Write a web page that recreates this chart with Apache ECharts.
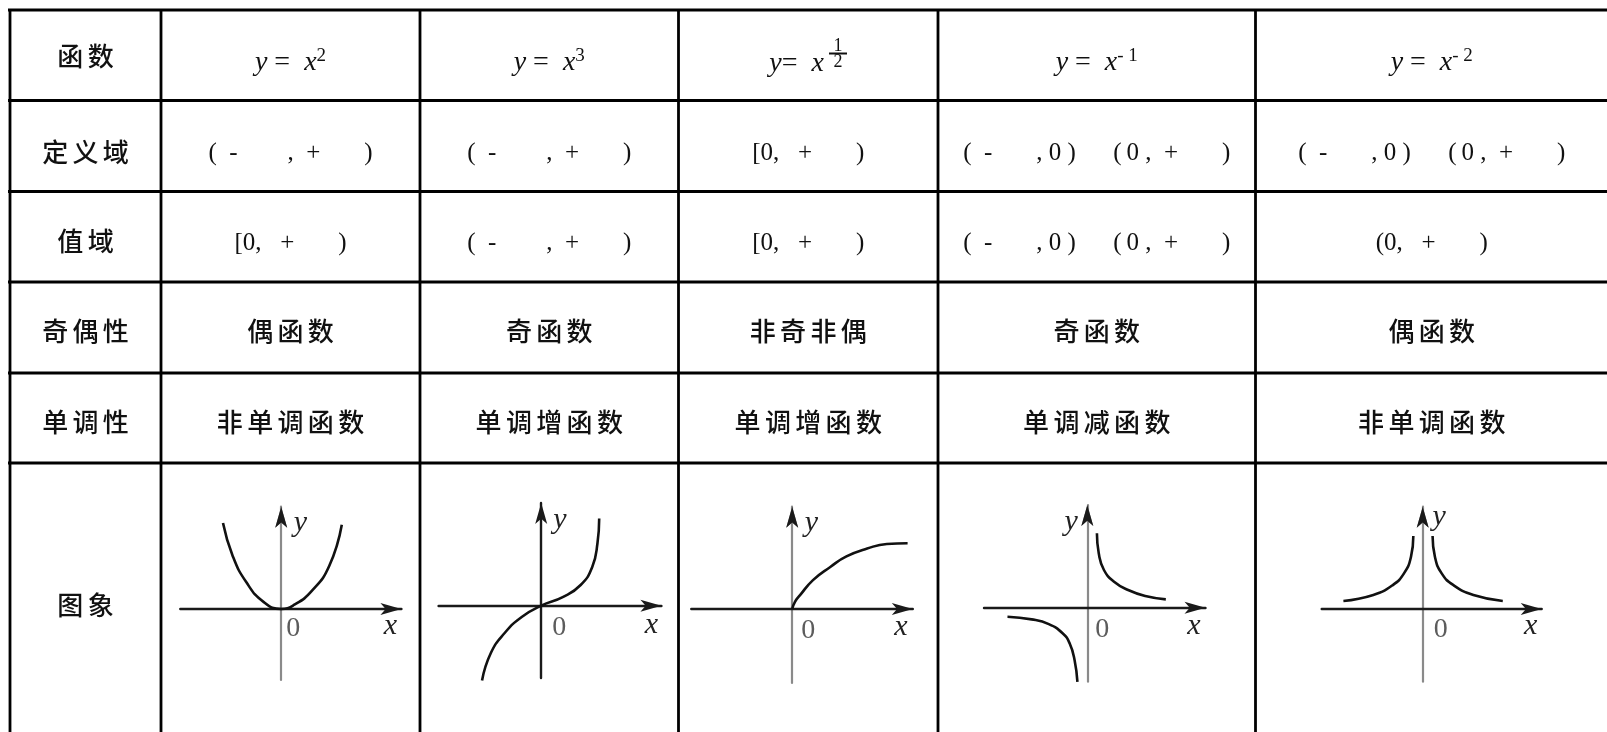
<!DOCTYPE html>
<html>
<head>
<meta charset="utf-8">
<title>幂函数的图象与性质</title>
<script src="https://cdn.jsdelivr.net/npm/echarts@6.0.0/dist/echarts.min.js"></script>
<style>
    html, body { margin: 0; padding: 0; background: #fff; }
    #main { width: 1607px; height: 732px; }
</style>
</head>
<body>
<div id="main"></div>
<script>
    // 表格文字
    var rowNames = ['函数', '定义域', '值域', '奇偶性', '单调性', '图象'];
    var exponents = ['2', '3', '1/2', '- 1', '- 2'];
    var domains = ['(  -        ,  +       )', '(  -        ,  +       )', '[0,   +       )',
                   '(  -       , 0 )      (\u20090 ,  +       )', '(  -       , 0 )      (\u20090 ,  +       )'];
    var ranges = ['[0,   +       )', '(  -        ,  +       )', '[0,   +       )',
                  '(  -       , 0 )      (\u20090 ,  +       )', '(0,   +       )'];
    var parity = ['偶函数', '奇函数', '非奇非偶', '奇函数', '偶函数'];
    var monotony = ['非单调函数', '单调增函数', '单调增函数', '单调减函数', '非单调函数'];

    // 图象：曲线点（坐标单位见下面的 layout）
    var curveX2 = [[-0.97, 1.0], [-0.81, 0.62], [-0.58, 0.31], [-0.29, 0.08], [0, 0],
                   [0.22, 0.05], [0.51, 0.21], [0.8, 0.5], [1.01, 0.98]];
    var curveX3 = [[-1.02, -0.85], [-0.87, -0.54], [-0.63, -0.31], [-0.33, -0.125], [0, 0],
                   [0.38, 0.10], [0.68, 0.235], [0.88, 0.44], [0.97, 0.71], [1.0, 0.99]];
    var curveSqrt = [[0, 0], [0.024, 0.11], [0.068, 0.21], [0.18, 0.44], [0.33, 0.64],
                     [0.47, 0.8], [0.65, 0.92], [0.82, 0.99], [1.0, 1.0]];
    var curveInvL = [[-3.07, -0.35], [-2.14, -0.45], [-1.48, -0.63], [-0.95, -0.98], [-0.68, -1.37], [-0.49, -2.01], [-0.38, -2.85]];
    var curveInvR = [[0.37, 2.86], [0.44, 2.09], [0.64, 1.45], [1.03, 1.0], [1.57, 0.68], [2.23, 0.45], [3.02, 0.32]];
    var curveInv2L = [[-3.05, 0.31], [-1.9, 0.54], [-1.15, 0.92], [-0.72, 1.37], [-0.45, 2.01], [-0.36, 2.81]];
    var curveInv2R = [[0.38, 2.81], [0.47, 2.01], [0.73, 1.37], [1.18, 0.92], [1.95, 0.54], [3.08, 0.31]];

    var mathFont = '"Liberation Serif", "Times New Roman", serif';
    var cjkFont = '"Noto Sans CJK SC", sans-serif';

    var colX = [10, 161, 420, 678.5, 938, 1255.5, 1608];
    var rowY = [10, 100.5, 191.5, 282, 373, 463];
    var nameY = [56, 152, 241, 331, 422, 605];

    function cx(i) { return (colX[i] + colX[i + 1]) / 2; }
    function spaced(s) { return s.split('').join('\u2006'); }

    var graphic = [];
    rowY.forEach(function (y) {
        graphic.push({ type: 'line', shape: { x1: 8, y1: y, x2: 1607, y2: y }, style: { stroke: '#000', lineWidth: 2.8 } });
    });
    colX.slice(0, 6).forEach(function (x) {
        graphic.push({ type: 'line', shape: { x1: x, y1: 9, x2: x, y2: 732 }, style: { stroke: '#000', lineWidth: 2.8 } });
    });

    function cjkText(s, x, y) {
        return { type: 'text', x: x, y: y, style: {
            text: spaced(s), fontFamily: cjkFont, fontSize: 26, fontWeight: 500, fill: '#111',
            align: 'center', verticalAlign: 'middle', textAlign: 'center', textVerticalAlign: 'middle' } };
    }
    function mathText(s, x, y, size, rich, align) {
        return { type: 'text', x: x, y: y, style: {
            text: s, fontFamily: mathFont, fontSize: size, fill: '#111', rich: rich,
            align: align || 'center', verticalAlign: 'middle', textAlign: align || 'center', textVerticalAlign: 'middle' } };
    }

    rowNames.forEach(function (s, i) { graphic.push(cjkText(s, cx(0), nameY[i])); });
    parity.forEach(function (s, i) { graphic.push(cjkText(s, cx(i + 1), nameY[3])); });
    monotony.forEach(function (s, i) { graphic.push(cjkText(s, cx(i + 1), nameY[4])); });
    domains.forEach(function (s, i) { graphic.push(mathText(s, cx(i + 1), 153, 25)); });
    ranges.forEach(function (s, i) { graphic.push(mathText(s, cx(i + 1), 243, 25)); });

    var headRich = {
        i: { fontFamily: mathFont, fontStyle: 'italic', fontSize: 28, verticalAlign: 'middle' },
        n: { fontFamily: mathFont, fontSize: 28, verticalAlign: 'middle' },
        s: { fontFamily: mathFont, fontSize: 19, verticalAlign: 'middle', padding: [0, 0, 13, 0] }
    };
    exponents.forEach(function (e, i) {
        var x = cx(i + 1);
        if (e.indexOf('/') > 0) {
            var p = e.split('/');
            graphic.push(mathText('{i|y}{n|=  }{i|x}', 824, 64, 28, headRich, 'right'));
            graphic.push(mathText(p[0], 838, 46.5, 18));
            graphic.push({ type: 'rect', shape: { x: 829, y: 52.5, width: 18, height: 2 }, style: { fill: '#111' } });
            graphic.push(mathText(p[1], 838, 62, 18));
        } else {
            graphic.push(mathText('{i|y}{n| =  }{i|x}{s|' + e + '}', x, 63, 28, headRich));
        }
    });

    // 每个小图：原点像素位置、单位长度、坐标轴的像素范围（到箭头尖端）和标注位置
    var layout = [
        { curves: [curveX2], origin: [281.2, 609], unit: [60, 86], xPx: [180.3, 401.4], yPx: [680, 506.7],
          gray: true, xName: [-11, 15], yName: [19, 16], zero: [12, 20] },
        { curves: [curveX3], origin: [541.2, 605.7], unit: [58, 88], xPx: [438.6, 661.4], yPx: [678, 503],
          gray: false, xName: [-10, 17], yName: [18.6, 17], zero: [18, 22] },
        { curves: [curveSqrt], origin: [792.2, 609], unit: [115.4, 65.7], xPx: [691.3, 912.8], yPx: [683, 506.7],
          gray: true, xName: [-12, 16], yName: [19, 16.6], zero: [16, 22] },
        { curves: [curveInvL, curveInvR], origin: [1087.3, 607.7], unit: [26, 26], xPx: [984, 1205.5], yPx: [681.7, 505],
          gray: true, xName: [-11.5, 16], yName: [-16, 16.7], zero: [15, 22] },
        { curves: [curveInv2L, curveInv2R], origin: [1422.7, 609], unit: [26, 26], xPx: [1321.7, 1541.7], yPx: [681.7, 506.7],
          gray: true, xName: [-11, 15], yName: [16.3, 10.6], zero: [18, 21] }
    ];

    var grids = [], xAxes = [], yAxes = [], series = [];
    var labelFont = { fontFamily: mathFont, fontStyle: 'italic', fontSize: 30, color: '#222' };
    var hidden = { axisTick: { show: false }, axisLabel: { show: false }, splitLine: { show: false } };
    var arrow = { symbol: ['none', 'arrow'], symbolSize: [9, 21] };

    layout.forEach(function (g) {
        var xMin = (g.xPx[0] - g.origin[0]) / g.unit[0], xMax = (g.xPx[1] - g.origin[0]) / g.unit[0];
        var yMin = (g.origin[1] - g.yPx[0]) / g.unit[1], yMax = (g.origin[1] - g.yPx[1]) / g.unit[1];
        var gi = grids.length;
        grids.push({ left: g.xPx[0], top: g.yPx[1], width: g.xPx[1] - g.xPx[0], height: g.yPx[0] - g.yPx[1] });

        var xIdx = xAxes.length;
        xAxes.push(Object.assign({
            type: 'value', gridIndex: gi, min: xMin, max: xMax,
            name: 'x', nameLocation: 'end', nameGap: g.xName[0],
            nameTextStyle: Object.assign({ align: 'center', verticalAlign: 'top', padding: [g.xName[1] - 12.5, 0, 0, 0] }, labelFont),
            axisLine: Object.assign({ onZero: true, lineStyle: { color: '#1a1a1a', width: 2.4 } }, arrow)
        }, hidden));

        var w = 13;
        var yIdx = yAxes.length;
        yAxes.push(Object.assign({
            type: 'value', gridIndex: gi, min: yMin, max: yMax,
            name: 'y', nameLocation: 'end', nameGap: -g.yName[1],
            nameTextStyle: Object.assign(g.yName[0] < 0
                ? { align: 'right', verticalAlign: 'middle', padding: [0, -g.yName[0] - w / 2, 0, 0] }
                : { align: 'left', verticalAlign: 'middle', padding: [0, 0, 0, g.yName[0] - w / 2] }, labelFont),
            axisLine: Object.assign({ onZero: true, lineStyle: { color: g.gray ? '#8a8a8a' : '#1a1a1a', width: g.gray ? 2.2 : 2.4 } }, arrow)
        }, hidden));

        g.curves.forEach(function (c) {
            series.push({
                type: 'line', xAxisIndex: xIdx, yAxisIndex: yIdx, data: c, smooth: true, symbol: 'none',
                clip: false, silent: true, lineStyle: { color: '#111', width: 2.6 }
            });
        });
        series.push({
            type: 'scatter', xAxisIndex: xIdx, yAxisIndex: yIdx, data: [[0, 0]], symbolSize: 0, silent: true,
            itemStyle: { color: 'rgba(0,0,0,0)' },
            label: { show: true, formatter: '0', position: 'inside', offset: g.zero,
                     fontFamily: mathFont, fontSize: 28, color: '#333' }
        });

        if (g.gray) {
            // 灰色竖轴顶端的黑色箭头：同样范围的一根轴，只画箭头
            var ai = grids.length;
            grids.push({ left: g.origin[0], top: g.yPx[1], width: 20, height: g.yPx[0] - g.yPx[1] });
            xAxes.push({ type: 'value', gridIndex: ai, show: false, min: 0, max: 1 });
            yAxes.push(Object.assign({
                type: 'value', gridIndex: ai, min: yMin, max: yMax, position: 'left',
                axisLine: Object.assign({ onZero: false, lineStyle: { color: '#1a1a1a', width: 0 } }, arrow)
            }, hidden));
        }
    });

    var myChart = echarts.init(document.getElementById('main'));
    myChart.setOption({
        animation: false,
        backgroundColor: '#fff',
        grid: grids,
        xAxis: xAxes,
        yAxis: yAxes,
        series: series,
        graphic: { elements: graphic }
    });
</script>
</body>
</html>
